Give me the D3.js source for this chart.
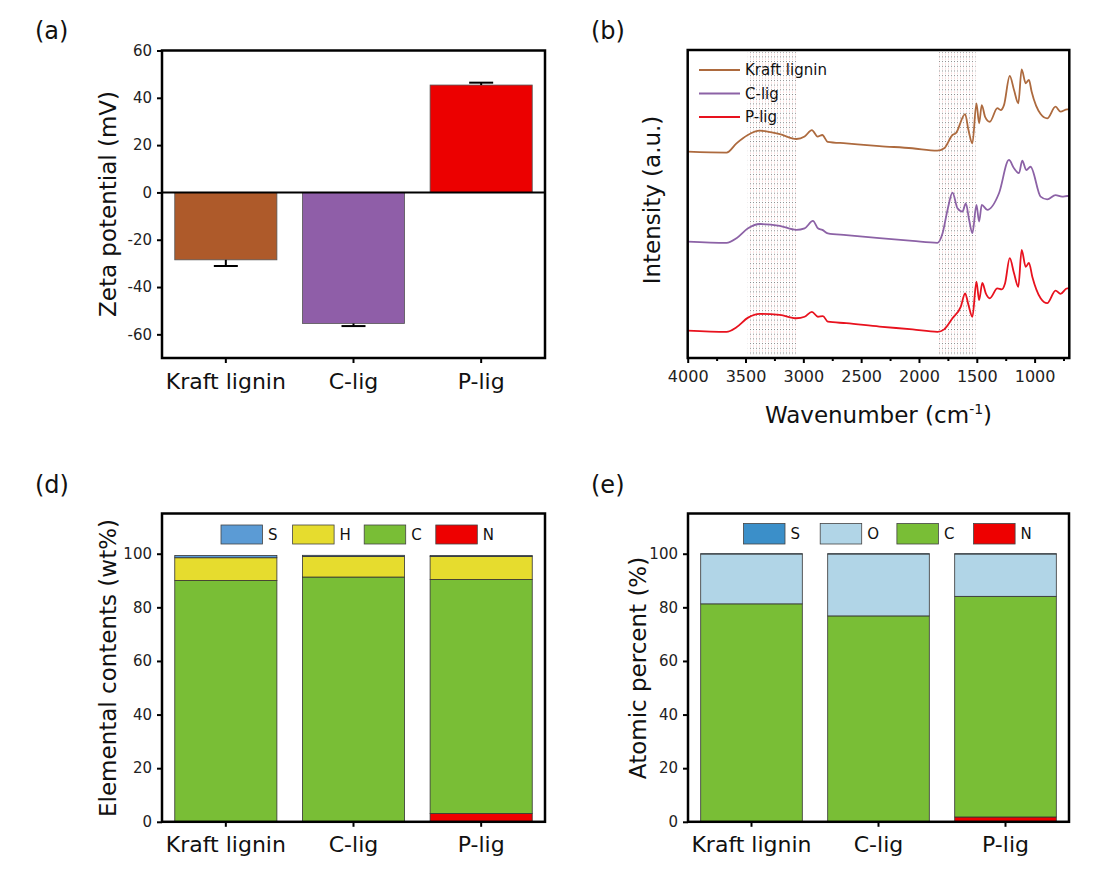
<!DOCTYPE html>
<html><head><meta charset="utf-8">
<script src="https://cdn.jsdelivr.net/npm/d3@7"></script>
<style>body{margin:0;background:#fff} svg{display:block} text{font-family:"DejaVu Sans",sans-serif}</style>
</head><body><svg id="c" width="1098" height="881"></svg>
<script>
// ---------- data ----------
const categories = ["Kraft lignin", "C-lig", "P-lig"];
// (a) zeta potential
const zetaValues = [-28.5, -55.4, 45.4];
const zetaErrors = [2.6, 1.1, 1.0];
const zetaColors = ["#AE5A2A", "#8F5EA8", "#EC0000"];
const zetaTicks = [60, 40, 20, 0, -20, -40, -60];
// (b) FTIR spectra (stacked with offsets, arbitrary units)
const ftirTicks = [4000, 3500, 3000, 2500, 2000, 1500, 1000];
const ftirMinorTicks = [3750, 3250, 2750, 2250, 1750, 1250, 750];
const ftirBands = [[3480, 3060], [1840, 1510]];
const ftirNames = ["Kraft lignin", "C-lig", "P-lig"];
const ftirColors = ["#AD6A3E", "#8C62A6", "#E8121E"];
const kraftWn = [4000,3664,3578,3480,3377,3204,3060,2989,2926,2877,2836,2790,2629,2342,2058,1842,1782,1710,1681,1601,1572,1538,1503,1480,1457,1428,1388,1322,1293,1265,1215,1178,1141,1112,1077,1049,1026,948,891,819,776,719,700];
const kraftInt = [67.0,66.7,69.7,72.4,73.8,72.7,71.1,71.9,74.0,71.9,72.4,70.2,69.7,68.8,68.1,67.3,68.1,72.4,73.0,79.2,74.0,69.7,82.7,76.2,82.1,78.3,76.7,81.1,80.5,82.1,91.6,87.0,82.7,93.7,89.2,90.3,86.5,79.2,77.8,81.6,80.0,80.7,80.7];
const cligWn = [4000,3664,3578,3478,3377,3204,3060,2989,2917,2874,2836,2788,2629,2342,2055,1840,1796,1753,1710,1667,1624,1595,1566,1538,1503,1480,1457,1409,1308,1222,1178,1135,1107,1072,1035,948,891,819,762,719,700];
const cligInt = [37.8,37.4,38.9,42.1,43.5,42.9,41.6,42.1,44.5,42.1,41.6,40.5,39.9,38.9,38.0,37.4,40.5,48.1,53.7,48.6,47.5,50.2,44.8,40.5,49.7,44.3,49.7,48.1,53.5,64.3,61.6,60.0,64.1,61.0,62.1,52.4,51.5,52.9,52.4,52.6,52.6];
const pligWn = [4000,3664,3578,3478,3377,3204,3060,2989,2926,2874,2831,2788,2629,2342,2055,1840,1782,1710,1638,1601,1572,1538,1503,1480,1452,1422,1388,1322,1284,1256,1215,1178,1141,1112,1077,1049,1020,948,891,819,776,719,700];
const pligInt = [8.9,8.5,10.0,13.1,14.3,14.0,12.9,13.4,15.0,13.4,13.6,11.8,11.3,10.2,9.3,8.5,9.3,12.9,16.7,21.0,17.2,13.4,24.8,18.8,24.4,21.0,19.4,22.6,22.3,24.2,32.4,27.5,23.1,35.1,29.6,30.9,26.4,19.4,17.8,21.9,20.8,22.6,22.6];
// (d) elemental contents (wt%)
const elemN = [0, 0, 3.1];
const elemC = [90.0, 91.3, 87.3];
const elemH = [8.5, 7.7, 8.6];
const elemS = [0.8, 0.4, 0.3];
const elemKeys = ["S", "H", "C", "N"];
const elemColors = {S: "#5B9BD5", H: "#E6DC2E", C: "#79BE36", N: "#EE0000"};
// (e) atomic percent
const atomN = [0, 0, 1.8];
const atomC = [81.3, 76.8, 82.3];
const atomO = [18.6, 23.1, 15.8];
const atomS = [0.1, 0.1, 0.1];
const atomKeys = ["S", "O", "C", "N"];
const atomColors = {S: "#3B8FC9", O: "#B1D5E7", C: "#79BE36", N: "#EE0000"};
const pctTicks = [0, 20, 40, 60, 80, 100];

// ---------- helpers ----------
const svg = d3.select("#c");
svg.append("rect").attr("width", 1098).attr("height", 881).attr("fill", "#fff");
const defs = svg.append("defs");
const pat = defs.append("pattern").attr("id", "dots").attr("patternUnits", "userSpaceOnUse")
  .attr("width", 3).attr("height", 4.7);
pat.append("rect").attr("x", 0).attr("y", 0).attr("width", 1).attr("height", 1).attr("fill", "#8a8a8a");
pat.append("rect").attr("x", 0).attr("y", 2.4).attr("width", 1).attr("height", 1).attr("fill", "#F5C6C6");

const plain = d => String(d);
function frame(b) {
  svg.append("rect").attr("x", b.x).attr("y", b.y).attr("width", b.w).attr("height", b.h)
    .attr("fill", "none").attr("stroke", "#000").attr("stroke-width", 2.5);
}
function styleAxis(g, size, color) {
  g.select(".domain").remove();
  g.selectAll(".tick line").attr("stroke", "#000").attr("stroke-width", 2);
  g.selectAll(".tick text").attr("font-size", size).attr("fill", color || "#222")
    .attr("font-family", "DejaVu Sans, sans-serif");
}
function panelLabel(t, x, y) {
  svg.append("text").attr("x", x).attr("y", y).attr("font-size", 24).attr("fill", "#111").text(t);
}
function yTitle(t, x, y) {
  svg.append("text").attr("transform", `translate(${x},${y}) rotate(-90)`).attr("text-anchor", "middle")
    .attr("dy", "0.35em").attr("font-size", 23).attr("fill", "#111").text(t);
}

// ---------- (a) ----------
const aBox = {x: 162, y: 50.5, w: 383, h: 307.5};
const ax = d3.scaleBand().domain(categories).range([aBox.x, aBox.x + aBox.w]).paddingInner(0.2).paddingOuter(0.1);
const ay = d3.scaleLinear().domain([-70, 60]).range([aBox.y + aBox.h, aBox.y]);
svg.append("g").selectAll("rect").data(categories).join("rect")
  .attr("x", d => ax(d)).attr("width", ax.bandwidth())
  .attr("y", (d, i) => Math.min(ay(zetaValues[i]), ay(0)))
  .attr("height", (d, i) => Math.abs(ay(zetaValues[i]) - ay(0)))
  .attr("fill", (d, i) => zetaColors[i]).attr("stroke", "#555").attr("stroke-width", 0.8);
const eg = svg.append("g").attr("stroke", "#000").attr("stroke-width", 2);
categories.forEach((c, i) => {
  const cx = ax(c) + ax.bandwidth() / 2;
  const v = zetaValues[i], e = v < 0 ? v - zetaErrors[i] : v + zetaErrors[i];
  eg.append("line").attr("x1", cx).attr("x2", cx).attr("y1", ay(v)).attr("y2", ay(e));
  eg.append("line").attr("x1", cx - 12).attr("x2", cx + 12).attr("y1", ay(e)).attr("y2", ay(e));
});
svg.append("line").attr("x1", aBox.x).attr("x2", aBox.x + aBox.w).attr("y1", ay(0)).attr("y2", ay(0))
  .attr("stroke", "#000").attr("stroke-width", 2);
styleAxis(svg.append("g").attr("transform", `translate(${aBox.x},0)`)
  .call(d3.axisLeft(ay).tickValues(zetaTicks).tickFormat(plain).tickSize(5).tickPadding(5)), 15);
styleAxis(svg.append("g").attr("transform", `translate(0,${aBox.y + aBox.h})`)
  .call(d3.axisBottom(ax).tickSize(5).tickPadding(10)), 22, "#111");
frame(aBox);
panelLabel("(a)", 35, 39);
yTitle("Zeta potential (mV)", 108, 204);

// ---------- (b) ----------
const bBox = {x: 687.7, y: 50, w: 381.6, h: 308};
const bx = d3.scaleLinear().domain([4000, 700]).range([bBox.x, bBox.x + bBox.w]);
const by = d3.scaleLinear().domain([0, 100]).range([bBox.y + bBox.h, bBox.y]);
svg.append("g").selectAll("rect").data(ftirBands).join("rect")
  .attr("x", d => bx(d[0])).attr("width", d => bx(d[1]) - bx(d[0]))
  .attr("y", bBox.y + 2).attr("height", bBox.h - 5).attr("fill", "url(#dots)");
const spectra = [
  kraftWn.map((w, i) => [w, kraftInt[i]]),
  cligWn.map((w, i) => [w, cligInt[i]]),
  pligWn.map((w, i) => [w, pligInt[i]])
];
const line = d3.line().x(d => bx(d[0])).y(d => by(d[1])).curve(d3.curveMonotoneX);
svg.append("g").selectAll("path").data(spectra).join("path")
  .attr("d", line).attr("fill", "none").attr("stroke", (d, i) => ftirColors[i]).attr("stroke-width", 1.8);
styleAxis(svg.append("g").attr("transform", `translate(0,${bBox.y + bBox.h})`)
  .call(d3.axisBottom(bx).tickValues(ftirTicks).tickFormat(plain).tickSize(5).tickPadding(8)), 16);
const mg = svg.append("g").attr("transform", `translate(0,${bBox.y + bBox.h})`)
  .call(d3.axisBottom(bx).tickValues(ftirMinorTicks).tickFormat("").tickSize(3));
styleAxis(mg, 10);
// legend
const lg = svg.append("g");
ftirNames.forEach((n, i) => {
  const y = 70 + i * 23.5;
  lg.append("line").attr("x1", 699).attr("x2", 740).attr("y1", y).attr("y2", y)
    .attr("stroke", ftirColors[i]).attr("stroke-width", 2);
  lg.append("text").attr("x", 745).attr("y", y).attr("dy", "0.35em").attr("font-size", 15)
    .attr("fill", "#111").text(n);
});
frame(bBox);
panelLabel("(b)", 591, 39);
yTitle("Intensity (a.u.)", 652, 200);
const xt = svg.append("text").attr("x", bBox.x + bBox.w / 2).attr("y", 423).attr("text-anchor", "middle")
  .attr("font-size", 23).attr("fill", "#111");
xt.append("tspan").text("Wavenumber (cm");
xt.append("tspan").attr("dy", -9).attr("font-size", 14).text("-1");
xt.append("tspan").attr("dy", 9).text(")");

// ---------- stacked panels (d), (e) ----------
function stackedPanel(box, rows, keys, colors, legendX, legendStep, legendY, legendH) {
  const x = d3.scaleBand().domain(categories).range([box.x, box.x + box.w]).paddingInner(0.2).paddingOuter(0.1);
  const y = d3.scaleLinear().domain([0, 115]).range([box.y + box.h, box.y]);
  const series = d3.stack().keys(["N", ...keys.filter(k => k !== "N").reverse()])(rows);
  svg.append("g").selectAll("g").data(series).join("g").attr("fill", s => colors[s.key])
    .selectAll("rect").data(s => s.filter(d => d[1] - d[0] > 0)).join("rect")
    .attr("x", d => x(d.data.cat)).attr("width", x.bandwidth())
    .attr("y", d => y(d[1])).attr("height", d => y(d[0]) - y(d[1]))
    .attr("stroke", "#333").attr("stroke-width", 0.8);
  styleAxis(svg.append("g").attr("transform", `translate(${box.x},0)`)
    .call(d3.axisLeft(y).tickValues(pctTicks).tickFormat(plain).tickSize(5).tickPadding(5)), 15);
  styleAxis(svg.append("g").attr("transform", `translate(0,${box.y + box.h})`)
    .call(d3.axisBottom(x).tickSize(5).tickPadding(10)), 22, "#111");
  keys.forEach((k, i) => {
    const lx = legendX + i * legendStep;
    svg.append("rect").attr("x", lx).attr("y", legendY).attr("width", 41.5).attr("height", legendH)
      .attr("fill", colors[k]).attr("stroke", "#444").attr("stroke-width", 0.8);
    svg.append("text").attr("x", lx + 47).attr("y", legendY + legendH / 2).attr("dy", "0.35em")
      .attr("font-size", 15).attr("fill", "#111").text(k);
  });
  frame(box);
}
const elemRows = categories.map((c, i) => ({cat: c, N: elemN[i], C: elemC[i], H: elemH[i], S: elemS[i]}));
const atomRows = categories.map((c, i) => ({cat: c, N: atomN[i], C: atomC[i], O: atomO[i], S: atomS[i]}));
stackedPanel({x: 162, y: 513.5, w: 383, h: 308.3}, elemRows, elemKeys, elemColors, 221, 71.6, 525, 19);
panelLabel("(d)", 35, 493);
yTitle("Elemental contents (wt%)", 108, 668);
stackedPanel({x: 688, y: 513.5, w: 381, h: 308.3}, atomRows, atomKeys, atomColors, 743.5, 76.7, 523.5, 20.5);
panelLabel("(e)", 591, 493);
yTitle("Atomic percent (%)", 638, 668);
</script></body></html>
